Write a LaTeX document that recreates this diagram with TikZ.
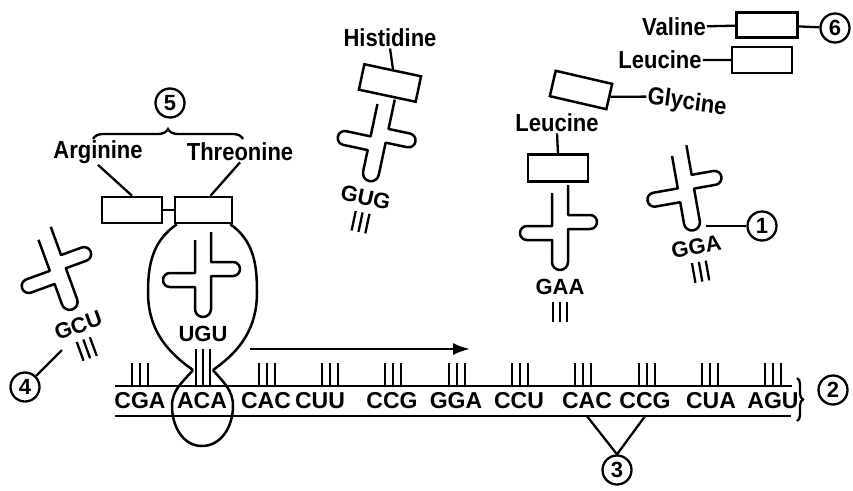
\documentclass[tikz,border=0pt]{standalone}
\usepackage{fontspec}
\setmainfont{Liberation Sans}
\usetikzlibrary{arrows.meta,decorations.pathreplacing}

\tikzset{
  rna/.style={line width=2.5pt, line join=round},
  link/.style={line width=2.3pt},
  lbl/.style={font=\bfseries\fontsize{22}{26}\selectfont, inner sep=1pt, yscale=1.12, transform shape},
  codon/.style={font=\bfseries\fontsize{23}{26}\selectfont, inner sep=0pt, minimum height=30pt},
  anticodon/.style={font=\bfseries\fontsize{22}{24}\selectfont, inner sep=0pt, transform shape},
  aabox/.style={draw, line width=2.5pt, minimum width=58pt, minimum height=26pt, inner sep=0pt},
  num/.style={circle, draw, line width=2.3pt, minimum size=29pt, inner sep=0pt, font=\bfseries\fontsize{22}{24}\selectfont},
  pics/trna/.style 2 args={code={
    \draw[rna] (8,43) -- (8,13) -- (30,13) arc[start angle=90, end angle=-90, radius=7]
      -- (8,-1) -- (8,-34) arc[start angle=0, end angle=-180, radius=8]
      -- (-8,-12) -- (-33,-12) arc[start angle=270, end angle=90, radius=7]
      -- (-8,2) -- (-8,35);
    \node[anticodon] (-ac) at (0,-59) {#1};
    \foreach \d in {-7,0,7}
      \draw[link] (\d,-74) -- (\d,-#2);
  }},
}

\begin{document}
\begin{tikzpicture}[x=1pt, y=1pt]
\useasboundingbox (0,0) rectangle (853,-490);

% messenger strand
\draw[rna] (115,-386) -- (792,-386);
\draw[rna] (115,-416) -- (791,-416);
\foreach \x/\c [count=\i] in {140/CGA, 202/ACA, 266/CAC, 320/CUU, 392/CCG, 456/GGA, 519/CCU, 587/CAC, 645/CCG, 711/CUA, 773/AGU}
  \node[codon] (m\i) at (\x,-401) {\c};
\foreach \x in {140,267,330,393,457,520,583,647,710,773}
  \foreach \d in {-8,0,8}
    \draw[link] (\x+\d,-363) -- (\x+\d,-386);
\draw[link, decorate, decoration={brace, amplitude=6pt}] (797,-378) -- (797,-421);
\node[num] (n2) at (833,-390) {2};
\node[num] (n3) at (617,-470) {3};
\draw[link] (m8.south) -- (n3.north) -- (m9.south);
\coordinate (mv0) at (250,-349);
\coordinate (mv1) at (470,-349);
\draw[link, -{Latex[length=17pt, width=12pt]}] (mv0) -- (mv1);

% tRNA in the ribosome
\node[aabox, minimum width=60pt] (argbox) at (132,-210) {};
\node[aabox, minimum width=57pt] (thrbox) at (203.5,-210) {};
\draw[link] (argbox) -- (thrbox);
\node[lbl] (argl) at (98,-152) {Arginine};
\node[lbl] (thrl) at (240,-152) {Threonine};
\draw[link] (argl.south) -- (argbox.north);
\draw[link] (thrl.south) -- ([xshift=7pt]thrbox.north);
\draw[link, decorate, decoration={brace, amplitude=10pt}] (93,-139) -- (243,-139);
\node[num] (n5) at (170,-103) {5};
\draw[rna] ([xshift=3pt]thrbox.south west) to[out=215, in=90] (148,-292) to[out=-90, in=145] (193,-370);
\draw[rna] ([xshift=-3pt]thrbox.south east) to[out=-35, in=90] (257,-292) to[out=-90, in=35] (213,-370);
\draw[rna] (193,-370) to[out=230, in=90] (172,-406) to[out=-90, in=180] (202,-446)
  to[out=0, in=-90] (233,-406) to[out=90, in=-50] (213,-370);
\pic (thr) at (203,-275) {trna={UGU}{111}};

% free tRNAs
\pic[rotate=20] (gcu) at (58,-270) {trna={GCU}{94}};
\node[num] (n4) at (25,-387) {4};
\coordinate (gcuend) at (62,-350);
\draw[link] (n4) -- (gcuend);

\pic[rotate=-12] (his) at (378,-140) {trna={GUG}{94}};
\node[aabox, rotate=-12] (hisbox) at (390,-83) {};
\node[lbl] (hisl) at (390,-38) {Histidine};
\draw[link] (hisl.south) -- (hisbox.north);

\pic (leu) at (560,-228) {trna={GAA}{94}};
\node[aabox, minimum width=60pt, minimum height=27pt] (leubox) at (558,-168) {};
\node[lbl] (leul) at (557,-123) {Leucine};
\draw[link] (leul.south) -- (leubox.north);

\pic[rotate=10] (gga) at (686,-189) {trna={GGA}{94}};
\node[num] (n1) at (762,-226) {1};
\coordinate (ggaend) at (706,-226);
\draw[link] (ggaend) -- (n1);

% amino acids waiting
\node[aabox, rotate=-13] (glybox) at (581,-90) {};
\node[lbl, rotate=-8] (glyl) at (687,-103) {Glycine};
\draw[link] (glybox.east) -- (glyl.west);

\node[lbl] (leu2l) at (660,-60) {Leucine};
\node[aabox, minimum width=60pt] (leu2box) at (762,-60) {};
\draw[link] (leu2l) -- (leu2box);

\node[lbl] (vall) at (674,-27) {Valine};
\node[aabox, minimum width=61pt, minimum height=25pt] (valbox) at (767,-25) {};
\node[num] (n6) at (835,-28) {6};
\draw[link] (vall) -- (valbox);
\draw[link] (valbox) -- (n6);
\end{tikzpicture}
\end{document}
